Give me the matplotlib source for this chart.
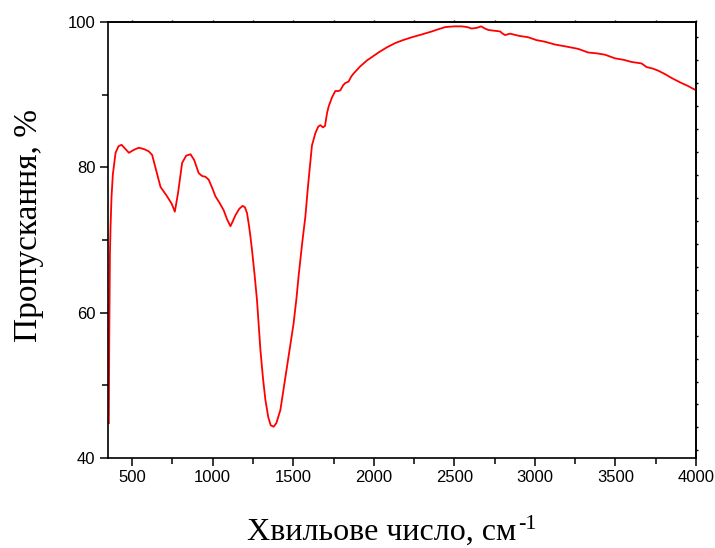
import matplotlib
matplotlib.use("Agg")
import matplotlib.pyplot as plt
from matplotlib.ticker import MultipleLocator

wavenumber = [355, 358, 362, 366, 372, 380, 397, 415, 434, 455, 480, 510, 541, 575, 603, 624,
              650, 676, 717, 745, 765, 785, 810, 835, 862, 885, 913, 935, 955, 975, 1000, 1017,
              1040, 1068, 1090, 1110, 1125, 1141, 1165, 1186, 1200, 1213, 1225, 1234, 1244, 1260,
              1275, 1296, 1312, 1327, 1345, 1360, 1378, 1395, 1420, 1440, 1461, 1482, 1502, 1520,
              1533, 1555, 1575, 1591, 1605, 1616, 1637, 1655, 1668, 1685, 1697, 1710, 1720, 1740,
              1761, 1780, 1792, 1810, 1823, 1843, 1860, 1874, 1916, 1957, 2029, 2080, 2133, 2180,
              2236, 2300, 2360, 2400, 2443, 2500, 2546, 2580, 2608, 2640, 2666, 2690, 2711, 2750,
              2784, 2800, 2815, 2846, 2900, 2959, 3011, 3060, 3125, 3200, 3269, 3331, 3380, 3435,
              3497, 3550, 3600, 3662, 3693, 3730, 3766, 3810, 3848, 3910, 3950, 4000]
transmittance = [44.8, 57.0, 68.0, 72.0, 76.0, 79.0, 82.0, 82.9, 83.1, 82.6, 82.0, 82.4, 82.7, 82.5,
                 82.2, 81.7, 79.5, 77.3, 76.0, 75.0, 73.9, 76.5, 80.6, 81.6, 81.8, 81.0, 79.2, 78.8,
                 78.7, 78.3, 77.0, 76.0, 75.2, 74.1, 72.8, 71.9, 72.6, 73.4, 74.3, 74.7, 74.5, 73.7,
                 72.0, 70.5, 68.6, 65.2, 61.7, 54.9, 51.0, 48.0, 45.6, 44.5, 44.3, 44.8, 46.6, 49.5,
                 52.6, 55.5, 58.5, 62.0, 65.0, 69.5, 73.2, 77.3, 80.5, 83.0, 84.7, 85.6, 85.8, 85.5,
                 85.7, 87.5, 88.4, 89.6, 90.5, 90.5, 90.6, 91.3, 91.6, 91.8, 92.5, 92.9, 93.9, 94.7,
                 95.8, 96.5, 97.1, 97.5, 97.9, 98.3, 98.7, 99.0, 99.3, 99.4, 99.4, 99.3, 99.1, 99.2,
                 99.4, 99.1, 98.9, 98.8, 98.7, 98.4, 98.2, 98.4, 98.1, 97.9, 97.5, 97.3, 96.9, 96.6,
                 96.3, 95.8, 95.7, 95.5, 95.0, 94.8, 94.5, 94.3, 93.8, 93.6, 93.3, 92.8, 92.3, 91.6,
                 91.2, 90.6]

x_ticks = [500, 1000, 1500, 2000, 2500, 3000, 3500, 4000]
y_ticks = [40, 60, 80, 100]
x_label = 'Хвильове число, см'
x_label_sup = '-1'
y_label = 'Пропускання, %'

fig = plt.figure(figsize=(7.15, 5.48), dpi=100)
ax = fig.add_axes([108/715, 1 - 458/548, (696 - 108)/715, (458 - 22)/548])

ax.plot(wavenumber, transmittance, color='#ff0000', lw=1.3)

ax.set_xlim(350, 4000)
ax.set_ylim(40, 100)
ax.set_xticks(x_ticks)
ax.set_yticks(y_ticks)
ax.xaxis.set_minor_locator(MultipleLocator(250))
ax.yaxis.set_minor_locator(MultipleLocator(10))
for lab in ax.get_xticklabels() + ax.get_yticklabels():
    lab.set_fontfamily('Liberation Sans')
    lab.set_fontsize(12)

ax.tick_params(which='major', direction='out', length=6, width=1.1, pad=3)
ax.tick_params(which='minor', direction='out', length=4, width=1.1)
for s in ax.spines.values():
    s.set_linewidth(1.2)

top = ax.secondary_xaxis('top')
top.set_xticks([])
top.xaxis.set_minor_locator(MultipleLocator(250))
top.tick_params(which='minor', direction='out', length=1.5, width=1.0)
top.spines['top'].set_linewidth(1.2)

right = ax.secondary_yaxis('right')
right.set_yticks([])
right.yaxis.set_minor_locator(MultipleLocator(60 / 19))
right.tick_params(which='minor', direction='out', length=1.5, width=1.0)
right.spines['right'].set_linewidth(1.2)

xl = fig.text(247 / 715, 1 / 548, x_label, family='Liberation Serif', fontsize=23,
              ha='left', va='bottom')
ax.annotate(x_label_sup, xy=(1, 1), xycoords=xl, xytext=(1, 2), textcoords='offset points',
            family='Liberation Serif', fontsize=16, ha='left', va='top')
fig.text(0.040, 1 - 225 / 548, y_label, family='Liberation Serif', fontsize=24,
         ha='center', va='center', rotation=90)

fig.savefig('out.png', dpi=100)
